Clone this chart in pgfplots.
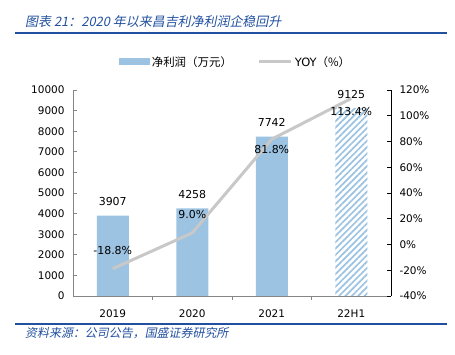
\documentclass[border=0pt]{standalone}
\usepackage{pgfplots}
\pgfplotsset{compat=1.18}
\usepackage{fontspec}
\setmainfont{DejaVu Sans}
\newfontfamily\cjk{Noto Sans CJK SC}
\newfontfamily\cjkit[FakeSlant=0.2]{Noto Sans CJK SC}
\usetikzlibrary{patterns.meta}
\definecolor{barblue}{HTML}{9DC3E2}
\definecolor{linegray}{HTML}{C8C8C8}
\definecolor{titleblue}{HTML}{2250A0}
\definecolor{axgray}{HTML}{868686}
\pgfplotstableread{
x y
0 3907
1 4258
2 7742
}\bars
\pgfplotstableread{
x y
3 9125
}\barsh
\pgfplotstableread{
x y dy
0 -18.8 18
1 9.0 18
2 81.8 -10
3 113.4 -13.5
}\yoy
\begin{document}
\begin{tikzpicture}
\useasboundingbox (0bp,0bp) rectangle (455bp,355bp);
\draw[titleblue, line width=1.8bp] (15bp,322bp) -- (447bp,322bp);
\node[anchor=west, text=titleblue, inner sep=0pt, font=\cjkit\fontsize{13}{15}\selectfont] at (25bp,333bp) {图表 21：2020 年以来昌吉利净利润企稳回升};
\draw[titleblue, line width=1.2bp] (15bp,31bp) -- (447bp,31bp);
\node[anchor=west, text=titleblue, inner sep=0pt, font=\cjkit\fontsize{12}{14}\selectfont] at (25bp,22bp) {资料来源：公司公告，国盛证券研究所};
\begin{axis}[
  at={(73bp,59bp)}, anchor=south west, scale only axis,
  width=318bp, height=206bp,
  xmin=-0.5, xmax=3.5, ymin=0, ymax=10000,
  axis x line*=bottom, axis y line*=left,
  axis line style={axgray, line width=0.8bp},
  xtick={0,1,2,3}, xticklabels={2019,2020,2021,22H1},
  minor xtick={0.5,1.5,2.5},
  major x tick style={draw=none},
  minor tick length=4bp, major tick length=4bp,
  ytick={0,1000,...,10000},
  scaled y ticks=false,
  tick align=inside,
  tick style={axgray, line width=0.8bp},
  /pgf/number format/1000 sep={},
  /pgf/number format/assume math mode=true,
  ticklabel style={font=\fontsize{10.5}{12}\selectfont},
  yticklabel style={xshift=-5bp},
  xticklabel style={yshift=-6bp},
  ybar, bar width=32bp, bar shift=0pt,
  nodes near coords,
  every node near coord/.style={anchor=center, yshift=14bp, font=\fontsize{11}{12}\selectfont, text=black},
  legend style={at={(0.5,1)}, anchor=center, xshift=3.5bp, yshift=28bp, draw=none, fill=none,
    legend columns=2, font=\fontsize{11.5}{13}\selectfont,
    /tikz/every even column/.append style={column sep=24bp}},
]
\addplot[fill=barblue, draw=none, bar shift=0pt,
  legend image code/.code={\fill[barblue] (0bp,-3.5bp) rectangle (31bp,3.5bp);}] table[x=x,y=y]{\bars};
\addlegendentry{\cjk 净利润（万元）}
\addplot[pattern={Lines[angle=45,distance=4.5bp,line width=1.7bp]}, pattern color=barblue, draw=none, bar shift=0pt, forget plot] table[x=x,y=y]{\barsh};
\addlegendimage{legend image code/.code={\draw[linegray, line width=3bp] (0bp,0bp) -- (32bp,0bp);}}
\addlegendentry{YOY{\cjk（\%）}}
\end{axis}
\begin{axis}[
  at={(73bp,59bp)}, anchor=south west, scale only axis,
  width=318bp, height=206bp,
  xmin=-0.5, xmax=3.5, ymin=-40, ymax=120,
  axis x line=none, axis y line*=right,
  axis line style={black, line width=0.8bp},
  ytick={-40,-20,...,120},
  yticklabel={\pgfmathprintnumber{\tick}\%},
  tick align=inside, major tick length=4bp,
  tick style={black, line width=0.8bp},
  /pgf/number format/assume math mode=true,
  ticklabel style={font=\fontsize{10.5}{12}\selectfont},
  yticklabel style={xshift=5bp},
]
\addplot[linegray, line width=3bp, no markers,
  point meta=y,
  nodes near coords={\pgfmathprintnumber[fixed,fixed zerofill,precision=1]{\pgfplotspointmeta}\%},
  visualization depends on={\thisrow{dy}\as\dy},
  every node near coord/.style={anchor=center, yshift=\dy bp, font=\fontsize{11}{12}\selectfont, text=black}] table[x=x,y=y]{\yoy};
\end{axis}
\end{tikzpicture}
\end{document}
